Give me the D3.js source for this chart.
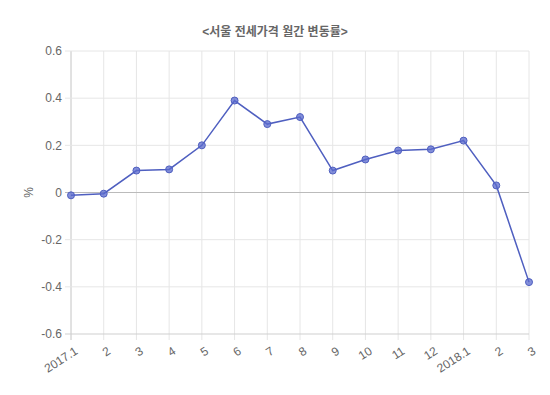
<!DOCTYPE html>
<html>
<head>
<meta charset="utf-8">
<script src="https://cdn.jsdelivr.net/npm/d3@7"></script>
<style>
  body { margin: 0; background: #fff; }
  text { font-family: "Liberation Sans", Arial, "Noto Sans CJK KR", sans-serif; }
</style>
</head>
<body>
<div id="chart"></div>
<script>
// data
const months = ["2017.1", "2", "3", "4", "5", "6", "7", "8", "9", "10", "11", "12", "2018.1", "2", "3"];
const changeRate = [-0.012, -0.005, 0.093, 0.098, 0.2, 0.39, 0.29, 0.32, 0.093, 0.14, 0.178, 0.183, 0.22, 0.03, -0.38];
const yTicks = [-0.6, -0.4, -0.2, 0, 0.2, 0.4, 0.6];
const title = "<서울 전세가격 월간 변동률>";

const width = 550, height = 395;
const margin = { top: 51, right: 21, bottom: 61, left: 71 };

const svg = d3.select("#chart").append("svg")
  .attr("width", width)
  .attr("height", height);

const x = d3.scalePoint()
  .domain(d3.range(months.length))
  .range([margin.left, width - margin.right]);

const y = d3.scaleLinear()
  .domain([-0.6, 0.6])
  .range([height - margin.bottom, margin.top]);

// vertical grid
svg.append("g")
  .selectAll("line")
  .data(d3.range(months.length))
  .join("line")
  .attr("x1", d => x(d)).attr("x2", d => x(d))
  .attr("y1", margin.top).attr("y2", height - margin.bottom + 6)
  .attr("stroke", d => d === 0 ? "#c4c4c4" : "#e6e6e6")
  .attr("stroke-width", 1);

// horizontal grid
svg.append("g")
  .selectAll("line")
  .data(yTicks)
  .join("line")
  .attr("x1", margin.left - 6).attr("x2", width - margin.right)
  .attr("y1", d => y(d)).attr("y2", d => y(d))
  .attr("stroke", d => d === 0 ? "#bbb" : (d === -0.6 ? "#cfcfcf" : "#e6e6e6"))
  .attr("stroke-width", 1);

// y tick labels
svg.append("g")
  .selectAll("text")
  .data(yTicks)
  .join("text")
  .attr("x", margin.left - 9)
  .attr("y", d => y(d))
  .attr("dy", "0.35em")
  .attr("text-anchor", "end")
  .attr("fill", "#666")
  .style("font-size", "12px")
  .text(d => String(+d.toFixed(1)));

// x tick labels, rotated
svg.append("g")
  .selectAll("text")
  .data(months)
  .join("text")
  .attr("transform", (d, i) => `translate(${x(i) + 3},${height - margin.bottom + 12}) rotate(-33)`)
  .attr("text-anchor", "end")
  .attr("dy", "0.7em")
  .attr("fill", "#666")
  .style("font-size", "12px")
  .text(d => d);

// y axis label
svg.append("text")
  .attr("transform", `translate(33,${y(0)}) rotate(-90)`)
  .attr("text-anchor", "middle")
  .attr("fill", "#666")
  .style("font-size", "12px")
  .text("%");

// title
svg.append("text")
  .attr("x", width / 2)
  .attr("y", 36)
  .attr("text-anchor", "middle")
  .attr("fill", "#666")
  .style("font-size", "12px")
  .style("font-weight", "bold")
  .text(title);

// line
const line = d3.line()
  .x((d, i) => x(i))
  .y(d => y(d));

svg.append("path")
  .datum(changeRate)
  .attr("fill", "none")
  .attr("stroke", "#4f5fc0")
  .attr("stroke-width", 1.5)
  .attr("d", line);

svg.append("g")
  .selectAll("circle")
  .data(changeRate)
  .join("circle")
  .attr("cx", (d, i) => x(i))
  .attr("cy", d => y(d))
  .attr("r", 3.5)
  .attr("fill", "rgba(90,105,205,0.75)")
  .attr("stroke", "#4f5fc0")
  .attr("stroke-width", 1);
</script>
</body>
</html>
